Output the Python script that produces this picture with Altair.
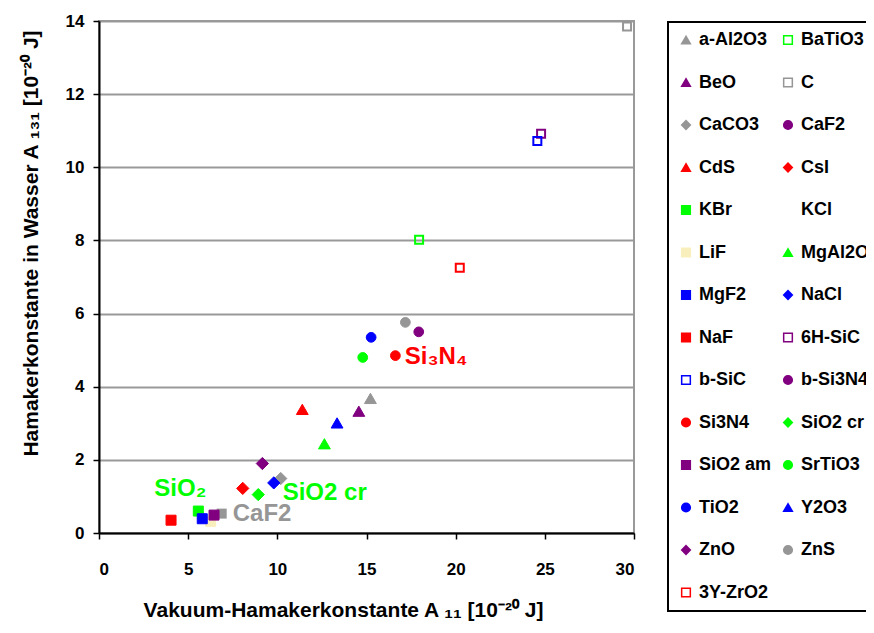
import altair as alt
import pandas as pd

# ---------------- data ----------------
legend_names = ["a-Al2O3", "BaTiO3", "BeO", "C", "CaCO3", "CaF2", "CdS", "CsI",
                "KBr", "KCl", "LiF", "MgAl2O4", "MgF2", "NaCl", "NaF", "6H-SiC",
                "b-SiC", "b-Si3N4", "Si3N4", "SiO2 cr", "SiO2 am", "SrTiO3",
                "TiO2", "Y2O3", "ZnO", "ZnS", "3Y-ZrO2"]

point_names = ["a-Al2O3", "BaTiO3", "BeO", "C", "CaCO3", "CdS", "CsI",
               "KBr", "LiF", "MgAl2O4", "MgF2", "NaCl", "NaF", "6H-SiC",
               "b-SiC", "b-Si3N4", "Si3N4", "SiO2 cr", "SiO2 am", "SrTiO3",
               "TiO2", "Y2O3", "ZnO", "ZnS", "3Y-ZrO2"]
a11 = [15.22, 17.95, 14.57, 29.61, 10.19, 11.40, 8.06,
       5.57, 6.26, 12.64, 5.79, 9.80, 4.04, 24.79,
       24.58, 17.93, 16.62, 8.93, 6.45, 14.79,
       15.26, 13.35, 9.16, 17.18, 20.23]
a131 = [3.68, 8.02, 3.33, 13.85, 1.49, 3.38, 1.22,
        0.60, 0.32, 2.44, 0.39, 1.37, 0.35, 10.92,
        10.72, 5.50, 4.85, 1.05, 0.49, 4.80,
        5.35, 3.01, 1.90, 5.76, 7.25]

# annotation marker (grey square next to the CaF2 label)
marker_x = [6.88]
marker_y = [0.53]

ann_text = ["SiO₂", "SiO2 cr", "CaF2", "Si₃N₄"]
ann_x = [3.1, 10.3, 7.5, 17.15]
ann_y = [1.19, 1.10, 0.51, 4.80]

x_ticks = [0, 5, 10, 15, 20, 25, 30]
y_ticks = [0, 2, 4, 6, 8, 10, 12, 14]

# ---------------- styles ----------------
GRAY, PURPLE, RED, GREEN, BLUE = "#969696", "#800080", "#FF0000", "#00FF00", "#0000FF"
LIGHT = "#F9EFBC"
NONE = "transparent"
style = {  # name: (shape, fill, stroke)
    "a-Al2O3": ("triangle-up", GRAY, GRAY),
    "BaTiO3": ("square", NONE, GREEN),
    "BeO": ("triangle-up", PURPLE, PURPLE),
    "C": ("square", NONE, GRAY),
    "CaCO3": ("diamond", GRAY, GRAY),
    "CaF2": ("circle", PURPLE, PURPLE),
    "CdS": ("triangle-up", RED, RED),
    "CsI": ("diamond", RED, RED),
    "KBr": ("square", GREEN, GREEN),
    "KCl": ("square", NONE, NONE),
    "LiF": ("square", LIGHT, LIGHT),
    "MgAl2O4": ("triangle-up", GREEN, GREEN),
    "MgF2": ("square", BLUE, BLUE),
    "NaCl": ("diamond", BLUE, BLUE),
    "NaF": ("square", RED, RED),
    "6H-SiC": ("square", NONE, PURPLE),
    "b-SiC": ("square", NONE, BLUE),
    "b-Si3N4": ("circle", PURPLE, PURPLE),
    "Si3N4": ("circle", RED, RED),
    "SiO2 cr": ("diamond", GREEN, GREEN),
    "SiO2 am": ("square", PURPLE, PURPLE),
    "SrTiO3": ("circle", GREEN, GREEN),
    "TiO2": ("circle", BLUE, BLUE),
    "Y2O3": ("triangle-up", BLUE, BLUE),
    "ZnO": ("diamond", PURPLE, PURPLE),
    "ZnS": ("circle", GRAY, GRAY),
    "3Y-ZrO2": ("square", NONE, RED),
}
ann_colors = [GREEN, GREEN, GRAY, RED]

FONT = "Liberation Sans"

df = pd.DataFrame({"name": point_names, "x": a11, "y": a131})
ann_df = pd.DataFrame({"t": ann_text, "x": ann_x, "y": ann_y, "c": ann_colors})
mk_df = pd.DataFrame({"x": marker_x, "y": marker_y})

xs = alt.Scale(domain=[0, 30], nice=False, zero=True)
ys = alt.Scale(domain=[0, 14], nice=False, zero=True)

x_enc = alt.X("x:Q", scale=xs, axis=alt.Axis(
    values=x_ticks, grid=False,
    title="Vakuum-Hamakerkonstante A ₁₁ [10⁻²⁰ J]",
    titleX=244, titleY=77, titleBaseline="middle", titleAlign="center",
    labelPadding=22))
y_enc = alt.Y("y:Q", scale=ys, axis=alt.Axis(
    values=y_ticks, grid=True, gridColor="#999999", gridWidth=2,
    title="Hamakerkonstante in Wasser A ₁₃₁ [10⁻²⁰ J]",
    titleX=-68, titleY=222, titleBaseline="middle", titleAlign="center",
    labelPadding=9))

fill_enc = alt.Fill("name:N", title=None,
                    scale=alt.Scale(domain=legend_names, range=[style[n][1] for n in legend_names]))
stroke_enc = alt.Stroke("name:N", title=None,
                        scale=alt.Scale(domain=legend_names, range=[style[n][2] for n in legend_names]))
shape_enc = alt.Shape("name:N", title=None,
                      scale=alt.Scale(domain=legend_names, range=[style[n][0] for n in legend_names]))

base = alt.Chart(df).encode(x=x_enc, y=y_enc, fill=fill_enc, stroke=stroke_enc, shape=shape_enc)


def group(names):
    return alt.FieldOneOfPredicate(field="name", oneOf=names)


tri = [n for n in point_names if style[n][0] == "triangle-up"]
sqf = [n for n in point_names if style[n][0] == "square" and style[n][1] != NONE]
sqo = [n for n in point_names if style[n][0] == "square" and style[n][1] == NONE]
dia = [n for n in point_names if style[n][0] == "diamond"]
cir = [n for n in point_names if style[n][0] == "circle"]

marker = alt.Chart(mk_df).mark_square(size=100, color=GRAY, opacity=1).encode(
    x=alt.X("x:Q", scale=xs), y=alt.Y("y:Q", scale=ys))

l_tri = base.transform_filter(group(tri)).mark_point(filled=True, opacity=1, size=140, strokeWidth=1)
l_sqf = base.transform_filter(group(sqf)).mark_point(filled=True, opacity=1, size=100, strokeWidth=1)
l_sqo = base.transform_filter(group(sqo)).mark_point(filled=True, opacity=1, size=64, strokeWidth=2)
l_dia = base.transform_filter(group(dia)).mark_point(filled=True, opacity=1, size=150, strokeWidth=1)
l_cir = base.transform_filter(group(cir)).mark_point(filled=True, opacity=1, size=95, strokeWidth=1)

labels = alt.Chart(ann_df).mark_text(
    font=FONT, fontSize=24, fontWeight="bold", align="left", baseline="middle"
).encode(x=alt.X("x:Q", scale=xs), y=alt.Y("y:Q", scale=ys), text="t:N",
         color=alt.Color("c:N", scale=None))

chart = alt.layer(marker, l_sqf, l_sqo, l_tri, l_dia, l_cir, labels).properties(
    width=535, height=512,
    autosize=alt.AutoSizeParams(type="none"),
    padding={"left": 91, "top": 13, "right": 232, "bottom": 92},
).configure_view(
    stroke="#999999", strokeWidth=2
).configure_axis(
    labelFont=FONT, labelFontSize=17, labelFontWeight="bold", labelColor="black",
    titleFont=FONT, titleFontSize=21, titleFontWeight="bold", titleColor="black",
    domainColor="black", domainWidth=2, tickColor="black", tickWidth=1.5, tickSize=6,
).configure_legend(
    orient="none", legendX=569, legendY=1, columns=2, direction="horizontal",
    labelFont=FONT, labelFontSize=18, labelFontWeight="bold", labelColor="black",
    labelLimit=300, labelOffset=4,
    symbolSize=75, symbolStrokeWidth=1.5, symbolOpacity=1,
    rowPadding=24.5, columnPadding=7, padding=9,
    strokeColor="black", strokeWidth=2,
)

chart.save("out.html", embed_options={"renderer": "svg", "actions": False})
